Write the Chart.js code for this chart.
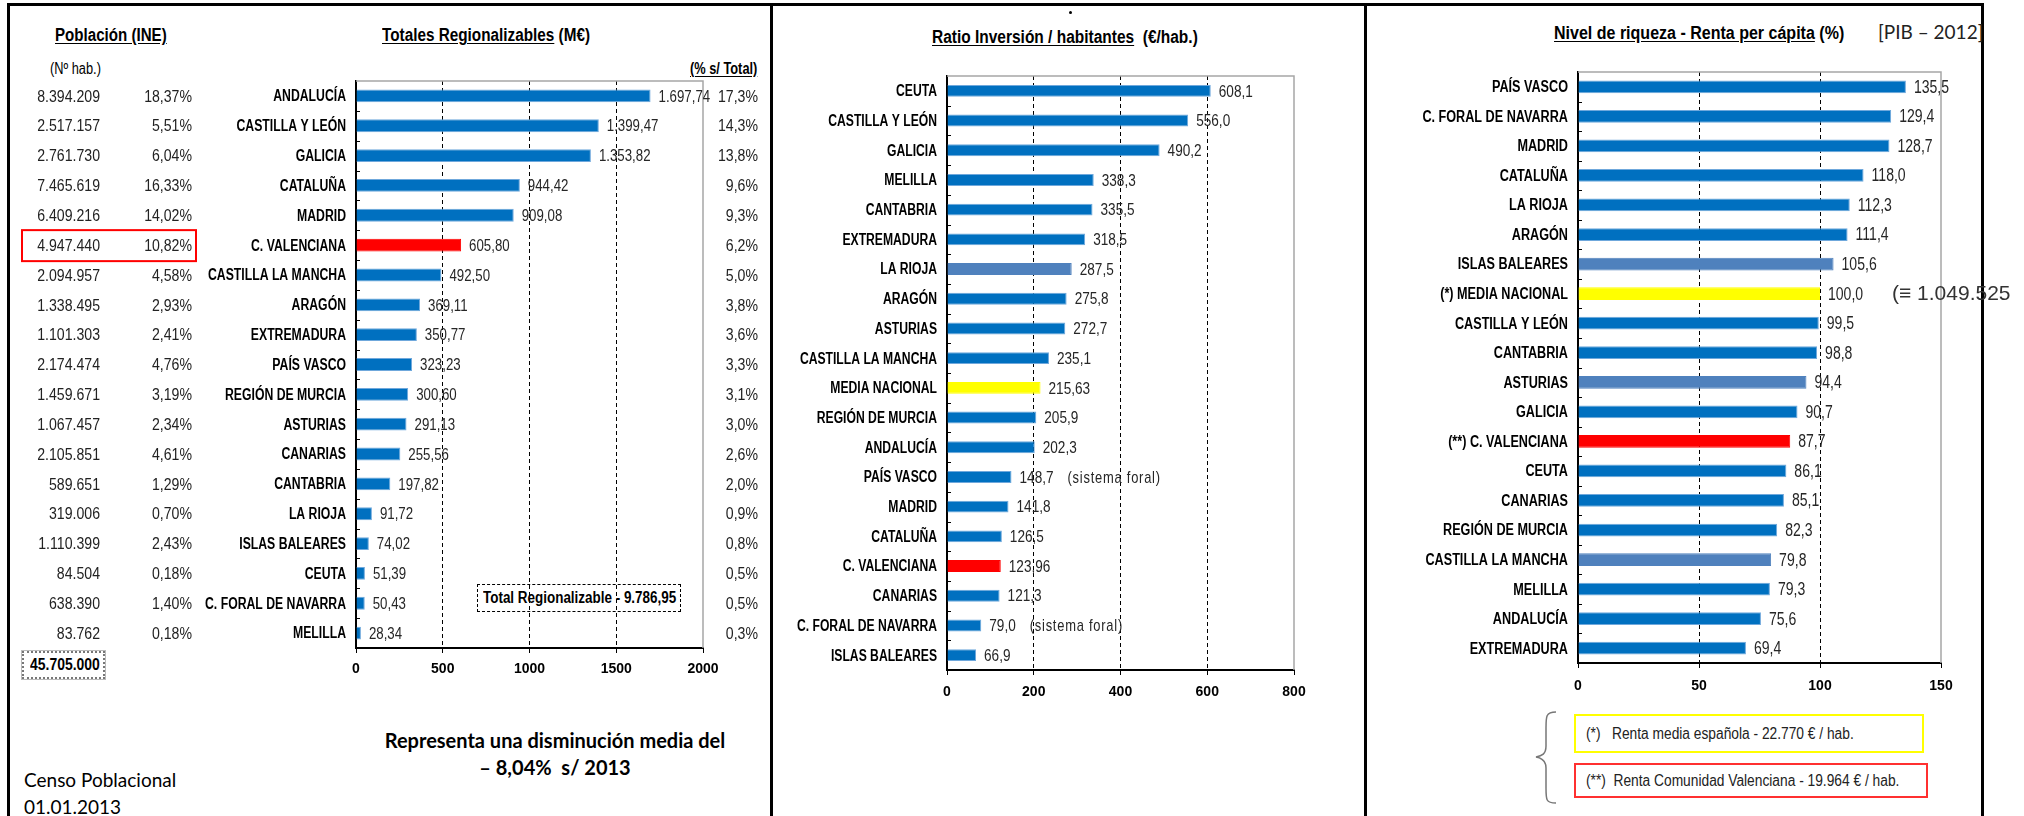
<!DOCTYPE html>
<html>
<head>
<meta charset="utf-8">
<script src="https://cdn.jsdelivr.net/npm/chart.js@4.4.1/dist/chart.umd.min.js"></script>
<style>
  html, body { margin: 0; padding: 0; background: #fff; }
  body { width: 2024px; height: 816px; position: relative; overflow: hidden;
         font-family: "Liberation Sans", Arial, sans-serif; color: #000; }
  canvas { position: absolute; }
  .t { position: absolute; white-space: nowrap; line-height: 20px; }
  .b { font-weight: bold; }
  .u { text-decoration: underline; text-underline-offset: 2px; }
  .n { display: inline-block; transform-origin: left center; }
  .line { position: absolute; background: #000; }
  .cal { font-family: Lato, "Liberation Sans", sans-serif; }
</style>
</head>
<body>

<div class="line" style="left:7px;top:3px;width:1977px;height:3px"></div>
<div class="line" style="left:7px;top:3px;width:3px;height:813px"></div>
<div class="line" style="left:770px;top:3px;width:3px;height:813px"></div>
<div class="line" style="left:1364px;top:3px;width:3px;height:813px"></div>
<div class="line" style="left:1981px;top:3px;width:3px;height:813px"></div>

<!-- panel 1 texts -->
<div class="t b" style="left:55px;top:25px;font-size:18px"><span class="n u" style="transform:scaleX(0.84)">Población (INE)</span></div>
<div class="t b" style="left:382px;top:25px;font-size:18px"><span class="n" style="transform:scaleX(0.85)"><span class="u">Totales Regionalizables</span> (M€)</span></div>
<div class="t" style="left:50px;top:59px;font-size:16px"><span class="n" style="transform:scaleX(0.8)">(Nº hab.)</span></div>
<div class="t b" style="left:690px;top:59px;font-size:16px"><span class="n u" style="transform:scaleX(0.8)">(% s/ Total)</span></div>
<div class="t b" style="left:22px;top:651px;width:79px;height:24px;line-height:24px;border:2px dotted #777;outline:1px solid #bbb;font-size:17px"><span class="n" style="transform:scaleX(0.82);margin-left:6px">45.705.000</span></div>
<div class="t b" style="left:477px;top:584px;width:202px;height:26px;line-height:26px;border:1px dashed #000;font-size:16px"><span class="n" style="transform:scaleX(0.84);margin-left:5px">Total Regionalizable - 9.786,95</span></div>
<div class="t b cal" style="left:555px;top:730px;transform:translateX(-50%);font-size:20px">Representa una disminución media del</div>
<div class="t b cal" style="left:555px;top:757px;transform:translateX(-50%);font-size:20px">– 8,04%&nbsp; s/ 2013</div>
<div class="t cal" style="left:24px;top:770px;font-size:19px">Censo Poblacional</div>
<div class="t cal" style="left:24px;top:797px;font-size:19px">01.01.2013</div>

<!-- panel 2 texts -->
<div class="line" style="left:1069px;top:11px;width:3px;height:3px;border-radius:2px"></div>
<div class="t b" style="left:932px;top:27px;font-size:18px"><span class="n" style="transform:scaleX(0.86)"><span class="u">Ratio Inversión / habitantes</span>&nbsp; (€/hab.)</span></div>

<!-- panel 3 texts -->
<div class="t b" style="left:1554px;top:23px;font-size:18px"><span class="n" style="transform:scaleX(0.89)"><span class="u">Nivel de riqueza - Renta per cápita</span> (%)</span></div>
<div class="t cal" style="left:1878px;top:22px;font-size:19px;color:#222">[PIB – 2012]</div>
<div class="t" style="left:1574px;top:714px;width:346px;height:35px;line-height:35px;border:2px solid #ffff00;font-size:16px;color:#222"><span class="n" style="transform:scaleX(0.86);margin-left:10px">(*)&nbsp;&nbsp; Renta media española - 22.770 € / hab.</span></div>
<div class="t" style="left:1574px;top:763px;width:350px;height:31px;line-height:31px;border:2px solid #ff3030;font-size:16px;color:#222"><span class="n" style="transform:scaleX(0.86);margin-left:10px">(**)&nbsp; Renta Comunidad Valenciana - 19.964 € / hab.</span></div>
<svg style="position:absolute;left:1530px;top:708px" width="30" height="100">
  <path d="M26 4 C 16 4, 16 8, 16 20 L 16 38 C 16 46, 12 48, 6 49 C 12 50, 16 53, 16 60 L 16 80 C 16 92, 16 95, 26 95" fill="none" stroke="#777" stroke-width="1.5"/>
</svg>

<canvas id="c1" width="760" height="640" style="left:10px;top:60px"></canvas>
<canvas id="c2" width="580" height="660" style="left:780px;top:60px"></canvas>
<canvas id="c3" width="654" height="650" style="left:1370px;top:50px"></canvas>

<script>
// ---- Totales regionalizables (M€) ----
const regions1 = ['ANDALUCÍA', 'CASTILLA Y LEÓN', 'GALICIA', 'CATALUÑA', 'MADRID', 'C. VALENCIANA',
  'CASTILLA LA MANCHA', 'ARAGÓN', 'EXTREMADURA', 'PAÍS VASCO', 'REGIÓN DE MURCIA', 'ASTURIAS',
  'CANARIAS', 'CANTABRIA', 'LA RIOJA', 'ISLAS BALEARES', 'CEUTA', 'C. FORAL DE NAVARRA', 'MELILLA'];
const totals1 = [1697.74, 1399.47, 1353.82, 944.42, 909.08, 605.80, 492.50, 369.11, 350.77, 323.23,
  300.60, 291.13, 255.56, 197.82, 91.72, 74.02, 51.39, 50.43, 28.34];
const population1 = ['8.394.209', '2.517.157', '2.761.730', '7.465.619', '6.409.216', '4.947.440',
  '2.094.957', '1.338.495', '1.101.303', '2.174.474', '1.459.671', '1.067.457', '2.105.851',
  '589.651', '319.006', '1.110.399', '84.504', '638.390', '83.762'];
const popShare1 = ['18,37%', '5,51%', '6,04%', '16,33%', '14,02%', '10,82%', '4,58%', '2,93%', '2,41%',
  '4,76%', '3,19%', '2,34%', '4,61%', '1,29%', '0,70%', '2,43%', '0,18%', '1,40%', '0,18%'];
const totalShare1 = ['17,3%', '14,3%', '13,8%', '9,6%', '9,3%', '6,2%', '5,0%', '3,8%', '3,6%', '3,3%',
  '3,1%', '3,0%', '2,6%', '2,0%', '0,9%', '0,8%', '0,5%', '0,5%', '0,3%'];
const ticks1 = [0, 500, 1000, 1500, 2000];

// ---- Ratio inversión / habitantes (€/hab.) ----
const regions2 = ['CEUTA', 'CASTILLA Y LEÓN', 'GALICIA', 'MELILLA', 'CANTABRIA', 'EXTREMADURA', 'LA RIOJA',
  'ARAGÓN', 'ASTURIAS', 'CASTILLA LA MANCHA', 'MEDIA NACIONAL', 'REGIÓN DE MURCIA', 'ANDALUCÍA',
  'PAÍS VASCO', 'MADRID', 'CATALUÑA', 'C. VALENCIANA', 'CANARIAS', 'C. FORAL DE NAVARRA', 'ISLAS BALEARES'];
const ratio2 = [608.1, 556.0, 490.2, 338.3, 335.5, 318.5, 287.5, 275.8, 272.7, 235.1, 215.63, 205.9,
  202.3, 148.7, 141.8, 126.5, 123.96, 121.3, 79.0, 66.9];
const notes2 = ['', '', '', '', '', '', '', '', '', '', '', '', '', '(sistema foral)', '', '', '', '', '(sistema foral)', ''];
const ticks2 = [0, 200, 400, 600, 800];

// ---- Nivel de riqueza - renta per cápita (%) ----
const regions3 = ['PAÍS VASCO', 'C. FORAL DE NAVARRA', 'MADRID', 'CATALUÑA', 'LA RIOJA', 'ARAGÓN',
  'ISLAS BALEARES', '(*) MEDIA NACIONAL', 'CASTILLA Y LEÓN', 'CANTABRIA', 'ASTURIAS', 'GALICIA',
  '(**) C. VALENCIANA', 'CEUTA', 'CANARIAS', 'REGIÓN DE MURCIA', 'CASTILLA LA MANCHA', 'MELILLA',
  'ANDALUCÍA', 'EXTREMADURA'];
const renta3 = [135.5, 129.4, 128.7, 118.0, 112.3, 111.4, 105.6, 100.0, 99.5, 98.8, 94.4, 90.7, 87.7,
  86.1, 85.1, 82.3, 79.8, 79.3, 75.6, 69.4];
const ticks3 = [0, 50, 100, 150];
const nationalEquiv3 = '(≡ 1.049.525';

const SANS = '"Liberation Sans", Arial, sans-serif';
const BLUE = '#0070c0', LIGHT = '#4f81bd', RED = '#ff0000', YELLOW = '#ffff00';

function barColors(labels, lighter) {
  return labels.map(l => l.includes('VALENCIANA') ? RED
    : l.includes('MEDIA NACIONAL') ? YELLOW
    : lighter.includes(l) ? LIGHT : BLUE);
}

function fmtEs(v, minD, maxD) {
  let [ip, dp] = v.toFixed(maxD).split('.');
  while (dp && dp.length > minD && dp.endsWith('0')) dp = dp.slice(0, -1);
  ip = ip.replace(/\B(?=(\d{3})+(?!\d))/g, '.');
  return dp ? ip + ',' + dp : ip;
}

// the original uses a condensed face; squeeze Liberation Sans horizontally
function narrowText(ctx, text, x, y, align, font, sx, color) {
  ctx.save();
  ctx.font = font;
  ctx.fillStyle = color;
  ctx.textAlign = align;
  ctx.textBaseline = 'middle';
  ctx.translate(x, y);
  ctx.scale(sx, 1);
  ctx.fillText(text, 0, 0);
  const w = ctx.measureText(text).width * sx;
  ctx.restore();
  return w;
}

// grey top/right frame + small ticks between categories
const frame = {
  id: 'frame',
  beforeDatasetsDraw(chart) {
    const { ctx, chartArea: a } = chart;
    const y = chart.scales.y;
    ctx.save();
    ctx.strokeStyle = '#a6a6a6';
    ctx.lineWidth = 1.5;
    ctx.beginPath();
    ctx.moveTo(a.left, a.top);
    ctx.lineTo(a.right, a.top);
    ctx.lineTo(a.right, a.bottom);
    ctx.stroke();
    ctx.strokeStyle = '#000';
    ctx.lineWidth = 1;
    ctx.beginPath();
    for (let i = 1; i < chart.data.labels.length; i++) {
      const yy = Math.round((y.getPixelForValue(i - 1) + y.getPixelForValue(i)) / 2) + 0.5;
      ctx.moveTo(a.left, yy);
      ctx.lineTo(a.left + 4, yy);
    }
    ctx.stroke();
    ctx.restore();
  }
};

function categoryLabels(sx) {
  return {
    id: 'cats',
    afterDraw(chart) {
      const y = chart.scales.y;
      const x0 = chart.chartArea.left - 10;
      chart.data.labels.forEach((l, i) => {
        narrowText(chart.ctx, l, x0, y.getPixelForValue(i) + 1, 'right', 'bold 16px ' + SANS, sx, '#000');
      });
    }
  };
}

function valueLabels(fmt, size, sx, notes) {
  return {
    id: 'values',
    afterDatasetsDraw(chart) {
      const ctx = chart.ctx;
      const data = chart.data.datasets[0].data;
      chart.getDatasetMeta(0).data.forEach((bar, i) => {
        const w = narrowText(ctx, fmt(data[i]), bar.x + 8, bar.y + 1, 'left', size + 'px ' + SANS, sx, '#262626');
        if (notes && notes[i]) {
          ctx.save();
          ctx.letterSpacing = '1px';
          narrowText(ctx, notes[i], bar.x + 8 + w + 14, bar.y + 1, 'left', '17px ' + SANS, 0.76, '#262626');
          ctx.restore();
        }
      });
    }
  };
}

function makeChart(id, labels, values, ticks, o) {
  const max = ticks[ticks.length - 1];
  const fills = barColors(labels, o.lighter);
  return new Chart(document.getElementById(id), {
    type: 'bar',
    data: {
      labels: labels,
      datasets: [{
        data: values,
        backgroundColor: fills,
        borderColor: fills.map(c => c === BLUE ? '#6fa8dc' : c),
        borderWidth: 1,
        barPercentage: o.bar,
        categoryPercentage: 1
      }]
    },
    options: {
      indexAxis: 'y',
      responsive: false,
      animation: false,
      devicePixelRatio: 1,
      layout: { padding: o.padding },
      plugins: { legend: { display: false }, tooltip: { enabled: false } },
      scales: {
        x: {
          min: ticks[0],
          max: max,
          afterBuildTicks: s => { s.ticks = ticks.map(v => ({ value: v })); },
          afterFit: s => { s.height = o.xh; },
          grid: {
            color: c => (c.tick && c.tick.value > 0 && c.tick.value < max) ? '#000' : 'rgba(0,0,0,0)',
            lineWidth: 1,
            tickColor: '#000',
            tickLength: 5
          },
          border: { color: '#000', width: 2, dash: [4, 3] },
          ticks: {
            color: '#000',
            padding: o.xpad,
            font: { family: SANS, size: 14, weight: 'bold' },
            callback: v => String(v)
          }
        },
        y: {
          afterFit: s => { s.width = o.yw; },
          grid: { display: true, drawOnChartArea: false, drawTicks: false },
          border: { color: '#000', width: 2 },
          ticks: { display: false, autoSkip: false }
        }
      }
    },
    plugins: o.plugins
  });
}

// panel 1: extra columns (population, share) drawn on the category rows
const columns1 = {
  id: 'columns1',
  afterDraw(chart) {
    const { ctx } = chart;
    const y = chart.scales.y;
    const font = '17px ' + SANS;
    regions1.forEach((r, i) => {
      const yy = y.getPixelForValue(i) + 1;
      narrowText(ctx, population1[i], 90, yy, 'right', font, 0.83, '#222');
      narrowText(ctx, popShare1[i], 182, yy, 'right', font, 0.83, '#222');
      narrowText(ctx, totalShare1[i], 748, yy, 'right', font, 0.83, '#222');
    });
    const k = regions1.indexOf('C. VALENCIANA');
    const cy = y.getPixelForValue(k);
    ctx.save();
    ctx.strokeStyle = '#ff0000';
    ctx.lineWidth = 2;
    ctx.strokeRect(12, cy - 15, 174, 31);
    ctx.restore();
  }
};

const national3 = {
  id: 'national3',
  afterDraw(chart) {
    const { ctx } = chart;
    const k = regions3.indexOf('(*) MEDIA NACIONAL');
    ctx.save();
    ctx.textBaseline = 'middle';
    ctx.font = '21px ' + SANS;
    ctx.fillStyle = '#333';
    ctx.fillText(nationalEquiv3, 522, chart.scales.y.getPixelForValue(k) + 1);
    ctx.restore();
  }
};

makeChart('c1', regions1, totals1, ticks1, {
  lighter: [], bar: 0.43, yw: 346, xh: 52, xpad: 8,
  padding: { top: 21, right: 67, left: 0, bottom: 0 },
  plugins: [frame, valueLabels(v => fmtEs(v, 2, 2), 17, 0.78), categoryLabels(0.765), columns1]
});

makeChart('c2', regions2, ratio2, ticks2, {
  lighter: ['LA RIOJA'], bar: 0.4, yw: 167, xh: 50, xpad: 9,
  padding: { top: 16, right: 66, left: 0, bottom: 0 },
  plugins: [frame, valueLabels(v => fmtEs(v, 1, 2), 17, 0.8, notes2), categoryLabels(0.76)]
});

makeChart('c3', regions3, renta3, ticks3, {
  lighter: ['ISLAS BALEARES', 'ASTURIAS', 'CASTILLA LA MANCHA'], bar: 0.43, yw: 208, xh: 37, xpad: 10,
  padding: { top: 22, right: 83, left: 0, bottom: 0 },
  plugins: [frame, valueLabels(v => fmtEs(v, 1, 1), 18, 0.78), categoryLabels(0.79), national3]
});
</script>
</body>
</html>
